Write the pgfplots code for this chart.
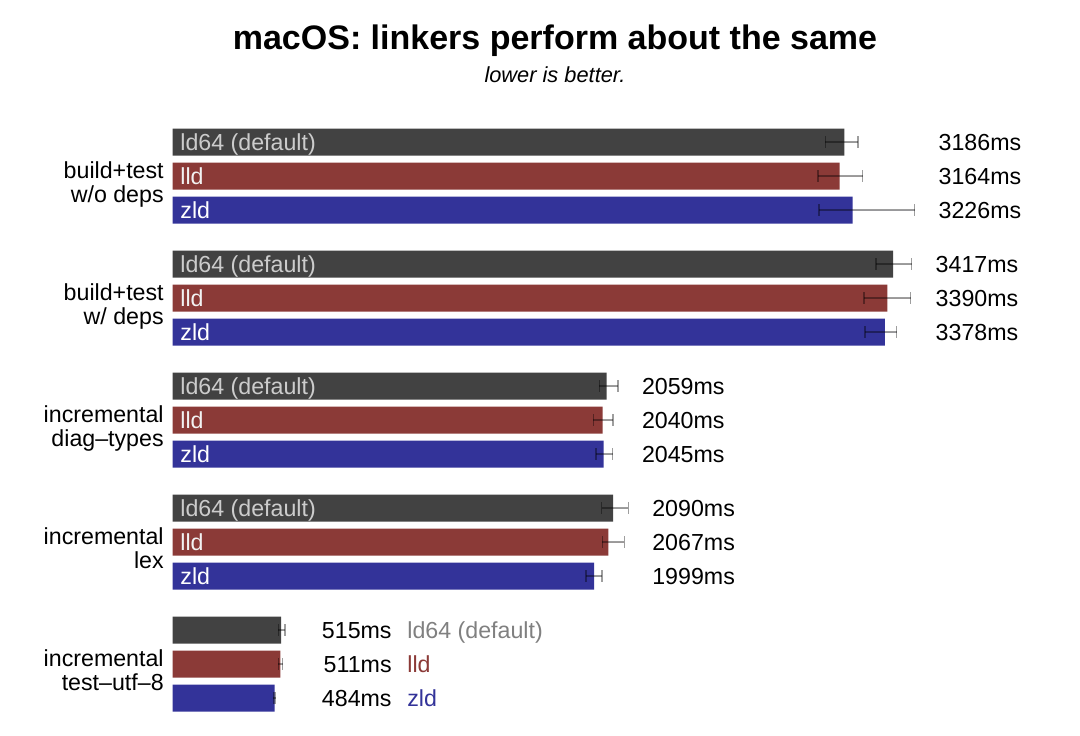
\documentclass[border=0pt]{standalone}
\usepackage{fontspec}
\setmainfont{Liberation Sans}
\usepackage{pgfplots}
\usepackage{pgfplotstable}
\pgfplotsset{compat=1.18}

\definecolor{cLd}{RGB}{66,66,66}
\definecolor{cLld}{RGB}{139,58,55}
\definecolor{cZld}{RGB}{51,51,153}

% y = row position (px from top), val = ms, em/ep = error below/above, lx = right edge of the value label
\pgfplotstableread{
y   val  em  ep  lx
142 3186 90  65  4027
264 3417 81  89  4013
386 2059 35  54  2620
508 2090 55  72  2669
630 515  13  19  1041
}\ldsixfour
\pgfplotstableread{
y   val  em  ep  lx
176 3164 103 109 4027
298 3390 111 111 4013
420 2040 44  49  2620
542 2067 29  76  2669
664 511  9   12  1041
}\lld
\pgfplotstableread{
y   val  em  ep  lx
210 3226 160 294 4027
332 3378 94  56  4013
454 2045 37  43  2620
576 1999 38  38  2669
698 484  6   3   1041
}\zld

\newcommand\lbl{\fontsize{11.6}{12.5}\selectfont}

\begin{document}
\begin{tikzpicture}[
    nm/.style={anchor=west, inner sep=0pt, font=\lbl, text height=8.3pt, text depth=0pt},
    grp/.style={anchor=east, inner sep=0pt, font=\lbl, text height=8.3pt, text depth=0pt},
  ]
\begin{axis}[
    width=540pt, height=367.5pt, scale only axis,
    xmin=-818.1, xmax=4303.9, ymin=0, ymax=735,
    y dir=reverse, hide axis, clip=false,
    bars/.style={xbar, bar shift=0pt, bar width=27, draw=none,
      error bars/x dir=both, error bars/x explicit,
      error bars/error mark=|,
      error bars/error bar style={draw=black, opacity=0.38, line width=0.7pt},
      error bars/error mark options={draw=black, opacity=0.38, line width=0.7pt, mark size=2.8pt}},
    vals/.style={draw=none, mark=none, point meta=explicit symbolic,
      nodes near coords={\pgfplotspointmeta ms},
      nodes near coords style={anchor=east, inner sep=0pt, text=black,
        font=\lbl, text height=8.3pt, text depth=0pt}},
  ]
  \path (rel axis cs:0,0) rectangle (rel axis cs:1,1);

  \addplot[bars, fill=cLd] table[x=val, y=y, x error minus=em, x error plus=ep] {\ldsixfour};
  \addplot[bars, fill=cLld] table[x=val, y=y, x error minus=em, x error plus=ep] {\lld};
  \addplot[bars, fill=cZld] table[x=val, y=y, x error minus=em, x error plus=ep] {\zld};

  \addplot[vals] table[x=lx, y=y, meta=val] {\ldsixfour};
  \addplot[vals] table[x=lx, y=y, meta=val] {\lld};
  \addplot[vals] table[x=lx, y=y, meta=val] {\zld};

  % names inside the bars
  \node[nm, text=black!20] at (axis cs:35.6,142) {ld64 (default)};
  \node[nm, text=white!95!black] at (axis cs:35.6,176) {lld};
  \node[nm, text=white] at (axis cs:35.6,210) {zld};
  \node[nm, text=black!20] at (axis cs:35.6,264) {ld64 (default)};
  \node[nm, text=white!95!black] at (axis cs:35.6,298) {lld};
  \node[nm, text=white] at (axis cs:35.6,332) {zld};
  \node[nm, text=black!20] at (axis cs:35.6,386) {ld64 (default)};
  \node[nm, text=white!95!black] at (axis cs:35.6,420) {lld};
  \node[nm, text=white] at (axis cs:35.6,454) {zld};
  \node[nm, text=black!20] at (axis cs:35.6,508) {ld64 (default)};
  \node[nm, text=white!95!black] at (axis cs:35.6,542) {lld};
  \node[nm, text=white] at (axis cs:35.6,576) {zld};
  % last group: names beside the values
  \node[nm, text=black!50] at (axis cs:1112,630) {ld64 (default)};
  \node[nm, text=cLld] at (axis cs:1112,664) {lld};
  \node[nm, text=cZld] at (axis cs:1112,698) {zld};

  % group labels
  \node[grp] at (axis cs:-40,170) {build+test};
  \node[grp] at (axis cs:-40,194) {w/o deps};
  \node[grp] at (axis cs:-40,292) {build+test};
  \node[grp] at (axis cs:-40,316) {w/ deps};
  \node[grp] at (axis cs:-40,414) {incremental};
  \node[grp] at (axis cs:-40,438) {diag\textendash types};
  \node[grp] at (axis cs:-40,536) {incremental};
  \node[grp] at (axis cs:-40,560) {lex};
  \node[grp] at (axis cs:-40,658) {incremental};
  \node[grp] at (axis cs:-40,682) {test\textendash utf\textendash 8};

  % titles
  \node[anchor=base, inner sep=0pt, font=\fontsize{17}{20}\selectfont\bfseries] at (axis cs:1814,49) {macOS: linkers perform about the same};
  \node[anchor=base, inner sep=0pt, font=\fontsize{10.9}{13}\selectfont\itshape] at (axis cs:1814,82) {lower is better.};
\end{axis}
\end{tikzpicture}
\end{document}
